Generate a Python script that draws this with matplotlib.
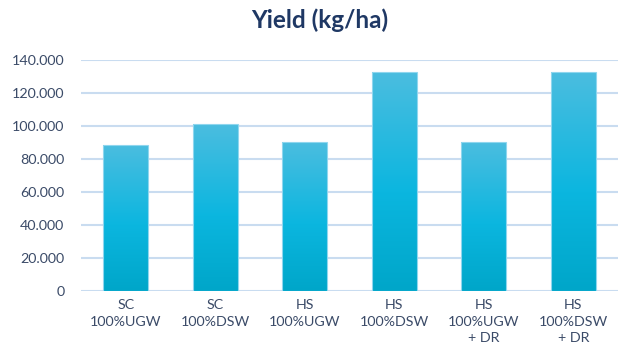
import matplotlib
matplotlib.use("Agg")
import matplotlib.pyplot as plt
import numpy as np
from matplotlib.colors import LinearSegmentedColormap
from matplotlib.ticker import FuncFormatter

categories = ["SC\n100%UGW", "SC\n100%DSW", "HS\n100%UGW", "HS\n100%DSW",
              "HS\n100%UGW\n+ DR", "HS\n100%DSW\n+ DR"]
values = [88500, 101200, 90300, 132700, 90300, 132700]
yticks = [0, 20000, 40000, 60000, 80000, 100000, 120000, 140000]

plt.rcParams['font.family'] = ['Lato', 'DejaVu Sans']

fig = plt.figure(figsize=(6.18, 3.58), dpi=100)
ax = fig.add_axes([81/618, 1-291/358, 537/618, (291-60)/358])

x = np.arange(len(categories))
bars = ax.bar(x, values, width=0.5, color='none', edgecolor='#8fd6ee', linewidth=0.8, zorder=3)

cmap = LinearSegmentedColormap.from_list("g", [(0, '#00a6c9'), (0.45, '#0bb6df'), (1, '#4bbde0')])
grad = np.linspace(0, 1, 256).reshape(-1, 1)
for b in bars:
    x0, y0 = b.get_x(), b.get_y()
    w, h = b.get_width(), b.get_height()
    im = ax.imshow(grad, extent=[x0, x0 + w, y0, y0 + h], origin='lower', cmap=cmap,
                   aspect='auto', zorder=2)
    im.set_clip_path(b)

ax.set_xlim(-0.5, len(categories) - 0.5)
ax.set_ylim(0, 140000)
ax.set_yticks(yticks)
ax.yaxis.set_major_formatter(FuncFormatter(lambda v, p: f"{int(v):,}".replace(",", ".")))
ax.set_xticks(x)
ax.set_xticklabels(categories, linespacing=1.45)
ax.grid(axis='y', color='#c9dcf0', linewidth=1.5, zorder=0)
ax.set_axisbelow(True)
for s in ax.spines.values():
    s.set_visible(False)
ax.tick_params(axis='both', length=0, labelsize=10.3, colors='#3b4b68')
ax.tick_params(axis='y', pad=12)
ax.tick_params(axis='x', pad=6)

fig.text(320/618, 1-20/358, "Yield (kg/ha)", ha='center', va='center', fontsize=17.5,
         fontweight='bold', color='#1f3864')

fig.savefig("out.png", dpi=100)
